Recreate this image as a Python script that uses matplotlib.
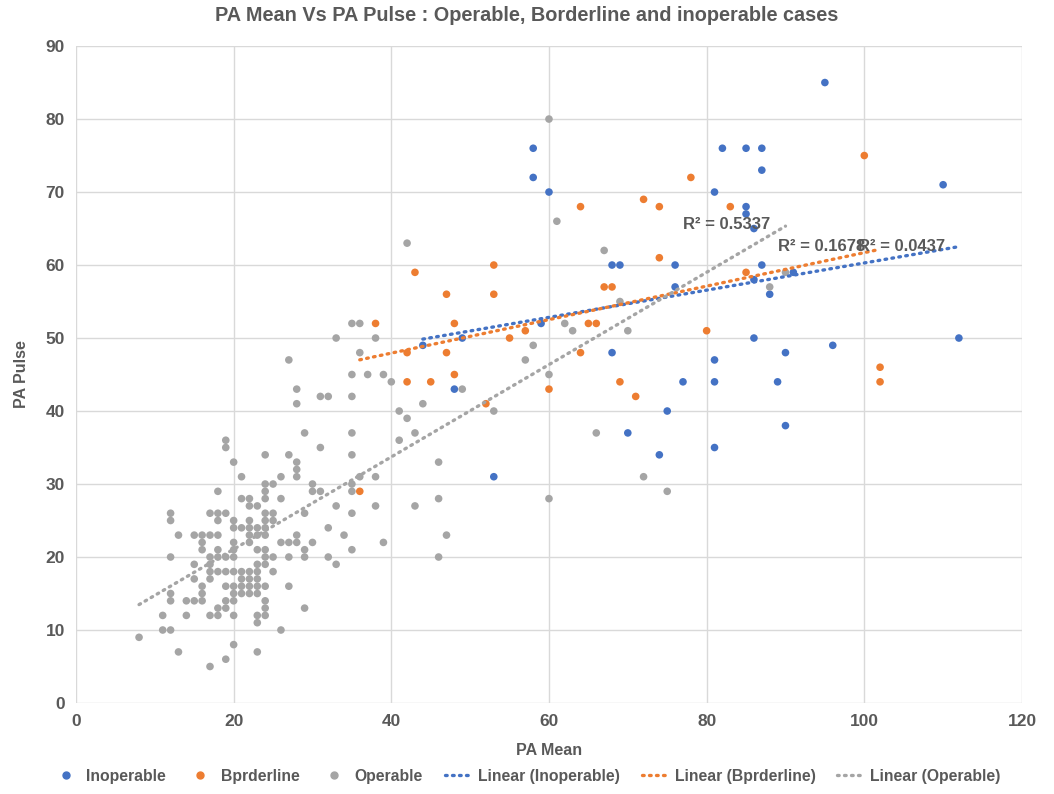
import numpy as np
import matplotlib.pyplot as plt
from matplotlib.lines import Line2D

# ---------------------------------------------------------------------
# Data (PA Mean, PA Pulse)
# ---------------------------------------------------------------------
inop_x = [95, 58, 58, 60, 82, 85, 87, 87, 81, 85, 85, 86, 110, 68, 69, 76, 87, 76,
          86, 91, 88, 59, 44, 49, 48, 53, 68, 70, 75, 74, 77, 81, 81, 81, 86, 90,
          96, 112, 89, 90]
inop_y = [85, 76, 72, 70, 76, 76, 76, 73, 70, 68, 67, 65, 71, 60, 60, 60, 60, 57,
          58, 59, 56, 52, 49, 50, 43, 31, 48, 37, 40, 34, 44, 47, 44, 35, 50, 48,
          49, 50, 44, 38]

border_x = [38, 42, 42, 43, 45, 47, 47, 48, 48, 36, 52, 53, 53, 55, 57, 60, 64, 64,
            65, 66, 67, 68, 69, 71, 72, 74, 74, 78, 80, 83, 85, 100, 102, 102]
border_y = [52, 48, 44, 59, 44, 56, 48, 52, 45, 29, 41, 60, 56, 50, 51, 43, 48, 68,
            52, 52, 57, 57, 44, 42, 69, 68, 61, 72, 51, 68, 59, 75, 46, 44]

oper_pts = [
    (60, 80), (61, 66), (67, 62), (42, 63), (69, 55), (62, 52), (63, 51), (70, 51),
    (58, 49), (57, 47), (60, 45), (49, 43), (53, 40), (66, 37), (72, 31), (75, 29),
    (60, 28), (88, 57), (90, 59),
    (35, 52), (36, 52), (33, 50), (38, 50), (36, 48), (27, 47), (35, 45), (37, 45),
    (39, 45), (40, 44), (28, 43), (31, 42), (32, 42), (35, 42), (28, 41), (44, 41),
    (41, 40), (42, 39), (29, 37), (35, 37), (43, 37), (41, 36), (31, 35), (19, 36),
    (19, 35), (20, 33), (24, 34), (27, 34), (35, 34), (46, 33), (28, 33), (28, 32),
    (28, 31), (21, 31), (26, 31), (36, 31), (38, 31), (24, 30), (25, 30), (30, 30),
    (35, 30), (24, 29), (30, 29), (31, 29), (35, 29), (18, 29), (21, 28), (22, 28),
    (24, 28), (26, 28), (46, 28), (22, 27), (23, 27), (33, 27), (38, 27), (43, 27),
    (12, 26), (17, 26), (18, 26), (19, 26), (24, 26), (25, 26), (29, 26), (35, 26),
    (12, 25), (18, 25), (20, 25), (22, 25), (24, 25), (25, 25), (20, 24), (21, 24),
    (22, 24), (23, 24), (24, 24), (32, 24), (13, 23), (15, 23), (16, 23), (17, 23),
    (18, 23), (22, 23), (23, 23), (24, 23), (28, 23), (34, 23), (47, 23), (16, 22),
    (20, 22), (22, 22), (26, 22), (27, 22), (28, 22), (30, 22), (39, 22), (16, 21),
    (18, 21), (20, 21), (23, 21), (24, 21), (29, 21), (35, 21), (12, 20), (17, 20),
    (18, 20), (19, 20), (20, 20), (24, 20), (25, 20), (27, 20), (29, 20), (32, 20),
    (46, 20), (15, 19), (17, 19), (23, 19), (24, 19), (33, 19), (17, 18), (18, 18),
    (19, 18), (20, 18), (21, 18), (22, 18), (23, 18), (25, 18), (15, 17), (17, 17),
    (21, 17), (22, 17), (23, 17), (16, 16), (19, 16), (20, 16), (21, 16), (22, 16),
    (23, 16), (24, 16), (27, 16), (12, 15), (16, 15), (20, 15), (21, 15), (22, 15),
    (23, 15), (12, 14), (14, 14), (15, 14), (16, 14), (19, 14), (20, 14), (24, 14),
    (18, 13), (19, 13), (24, 13), (29, 13), (11, 12), (14, 12), (17, 12), (18, 12),
    (20, 12), (23, 12), (24, 12), (23, 11), (11, 10), (12, 10), (26, 10), (8, 9),
    (20, 8), (13, 7), (23, 7), (19, 6), (17, 5),
]
oper_x = [p[0] for p in oper_pts]
oper_y = [p[1] for p in oper_pts]

series_names = ["Inoperable", "Bprderline", "Operable"]
r2_labels = ["R² = 0.0437", "R² = 0.1678", "R² = 0.5337"]

x_ticks = [0, 20, 40, 60, 80, 100, 120]
y_ticks = [0, 10, 20, 30, 40, 50, 60, 70, 80, 90]

# ---------------------------------------------------------------------
# Style
# ---------------------------------------------------------------------
c_blue = "#4472C4"
c_orange = "#ED7D31"
c_gray = "#A5A5A5"
c_text = "#595959"
c_grid = "#D9D9D9"

plt.rcParams["font.family"] = ["Liberation Sans", "DejaVu Sans"]

fig = plt.figure(figsize=(10.54, 7.94), dpi=100)
ax = fig.add_axes([0.0721, 0.1146, 0.8975, 0.8274])

series = [
    (inop_x, inop_y, c_blue),
    (border_x, border_y, c_orange),
    (oper_x, oper_y, c_gray),
]

dotted = (0, (0.5, 1.6))
for xs, ys, col in series:
    ax.scatter(xs, ys, s=30, color=col, edgecolors="none", zorder=3)

# linear trendlines over each series' x range
for xs, ys, col in series:
    xs = np.array(xs, float)
    ys = np.array(ys, float)
    k, b = np.polyfit(xs, ys, 1)
    xl = np.array([xs.min(), xs.max()])
    ax.plot(xl, k * xl + b, color=col, lw=2.4, linestyle=dotted,
            dash_capstyle="round", zorder=4)

# R² labels (positions as in the reference)
lab_kw = dict(fontsize=12, fontweight="bold", color=c_text, zorder=5, va="center")
ax.text(99.2, 62.6, r2_labels[0], **lab_kw)
ax.text(89.0, 62.6, r2_labels[1], **lab_kw)
ax.text(77.0, 65.5, r2_labels[2], **lab_kw)

ax.set_xlim(0, 120)
ax.set_ylim(0, 90)
ax.set_xticks(x_ticks)
ax.set_yticks(y_ticks)
ax.grid(True, color=c_grid, lw=1.0)
ax.set_axisbelow(True)
for s in ax.spines.values():
    s.set_visible(False)
ax.tick_params(length=0, labelsize=12.5, labelcolor=c_text, pad=8)
for lbl in ax.get_xticklabels() + ax.get_yticklabels():
    lbl.set_fontweight("bold")

ax.set_xlabel("PA Mean", fontsize=11.5, fontweight="bold", color=c_text, labelpad=10)
ax.set_ylabel("PA Pulse", fontsize=11.5, fontweight="bold", color=c_text, labelpad=12)
fig.suptitle("PA Mean Vs PA Pulse : Operable, Borderline and inoperable cases",
             x=0.5, y=0.992, fontsize=14.3, fontweight="bold", color=c_text)

handles = [
    Line2D([], [], marker="o", ls="none", color=c_blue, markersize=5),
    Line2D([], [], marker="o", ls="none", color=c_orange, markersize=5),
    Line2D([], [], marker="o", ls="none", color=c_gray, markersize=5),
    Line2D([], [], color=c_blue, lw=2.4, ls=dotted, dash_capstyle="round"),
    Line2D([], [], color=c_orange, lw=2.4, ls=dotted, dash_capstyle="round"),
    Line2D([], [], color=c_gray, lw=2.4, ls=dotted, dash_capstyle="round"),
]
labels = series_names + [f"Linear ({n})" for n in series_names]
leg = fig.legend(handles, labels, loc="lower center", bbox_to_anchor=(0.5, -0.005),
                 ncol=6, frameon=False, handlelength=1.6, handletextpad=0.5,
                 columnspacing=1.4, prop=dict(size=11.3, weight="bold"))
for t in leg.get_texts():
    t.set_color(c_text)

fig.savefig("out.png", dpi=100)
